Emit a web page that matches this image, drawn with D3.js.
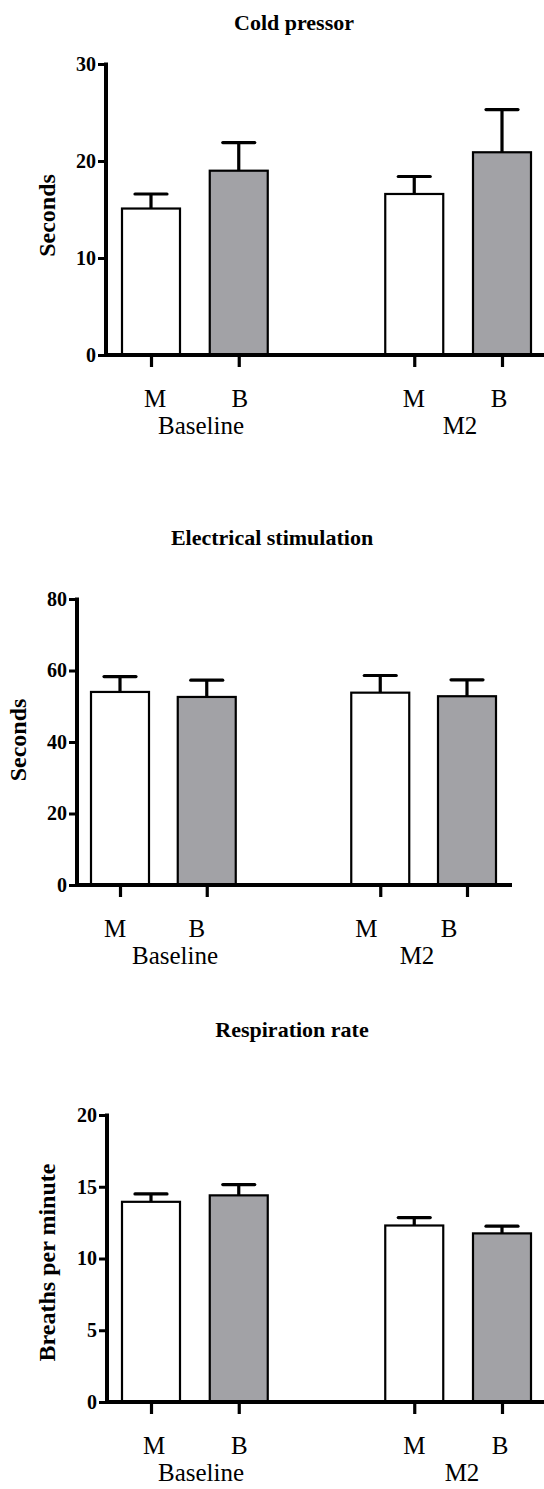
<!DOCTYPE html>
<html>
<head>
<meta charset="utf-8">
<script src="https://cdn.jsdelivr.net/npm/d3@7"></script>
<style>
  html, body { margin: 0; padding: 0; background: #fff; }
  svg { display: block; }
  text { font-family: "Liberation Serif", "Times New Roman", serif; fill: #000; }
</style>
</head>
<body>
<svg id="chart" width="544" height="1489"></svg>
<script>
// Group and condition labels
const groups = ["Baseline", "M2"];
const conditions = ["M", "B"];

// Cold pressor (seconds)
const coldMean = [15.1, 19.0, 16.6, 20.9];
const coldErr  = [1.5, 2.9, 1.8, 4.4];
const coldTicks = [0, 10, 20, 30];

// Electrical stimulation (seconds)
const elecMean = [54.0, 52.6, 53.8, 52.8];
const elecErr  = [4.3, 4.7, 4.8, 4.6];
const elecTicks = [0, 20, 40, 60, 80];

// Respiration rate (breaths per minute)
const respMean = [13.95, 14.4, 12.3, 11.75];
const respErr  = [0.55, 0.75, 0.55, 0.5];
const respTicks = [0, 5, 10, 15, 20];

const panels = [
  { title: "Cold pressor", yLabel: "Seconds", mean: coldMean, err: coldErr, ticks: coldTicks,
    axisX: 106, y0: 355, yTop: 64, firstX: 151, lastX: 502, axisEnd: 560,
    titleX: 294, titleY: 30, yLabelX: 55, yLabelShift: 6,
    condShift: [4, 1, -0.5, -3], groupX: [201, 460] },
  { title: "Electrical stimulation", yLabel: "Seconds", mean: elecMean, err: elecErr, ticks: elecTicks,
    axisX: 77, y0: 885, yTop: 599, firstX: 120, lastX: 467, axisEnd: 512,
    titleX: 272, titleY: 545, yLabelX: 26, yLabelShift: -2,
    condShift: [-5, -10, -14, -18], groupX: [175, 417] },
  { title: "Respiration rate", yLabel: "Breaths per minute", mean: respMean, err: respErr, ticks: respTicks,
    axisX: 107, y0: 1402, yTop: 1115, firstX: 151, lastX: 502, axisEnd: 560,
    titleX: 292, titleY: 1037, yLabelX: 55, yLabelShift: 4,
    condShift: [3, 0.5, 0, -2], groupX: [201, 462] }
];

const svg = d3.select("#chart");
const slots = ["Baseline|M", "Baseline|B", "gap", "M2|M", "M2|B"];
const barKeys = ["Baseline|M", "Baseline|B", "M2|M", "M2|B"];
const fills = { M: "#ffffff", B: "#a2a2a6" };
const barW = 58;

panels.forEach(p => {
  const g = svg.append("g");
  const yMax = p.ticks[p.ticks.length - 1];
  const y = d3.scaleLinear().domain([0, yMax]).range([p.y0, p.yTop]);
  const x = d3.scalePoint().domain(slots).range([p.firstX, p.lastX]);

  const rows = barKeys.map((k, i) => ({
    key: k, group: k.split("|")[0], cond: k.split("|")[1],
    mean: p.mean[i], err: p.err[i], shift: p.condShift[i]
  }));

  // Title
  g.append("text")
    .attr("x", p.titleX).attr("y", p.titleY)
    .attr("text-anchor", "middle")
    .style("font-weight", "bold").style("font-size", "22px")
    .text(p.title);

  // Error bars (drawn first so the bar outline sits over the stem base)
  const eb = g.append("g").attr("stroke", "#000").attr("stroke-width", 3.2).attr("fill", "none");
  rows.forEach(r => {
    const cx = x(r.key);
    eb.append("line").attr("x1", cx).attr("x2", cx)
      .attr("y1", y(r.mean)).attr("y2", y(r.mean + r.err));
    eb.append("line").attr("x1", cx - 16).attr("x2", cx + 16)
      .attr("y1", y(r.mean + r.err)).attr("y2", y(r.mean + r.err))
      .attr("stroke-linecap", "round");
  });

  // Bars
  g.append("g").selectAll("rect").data(rows).join("rect")
    .attr("x", d => x(d.key) - barW / 2)
    .attr("y", d => y(d.mean))
    .attr("width", barW)
    .attr("height", d => y(0) - y(d.mean))
    .attr("fill", d => fills[d.cond])
    .attr("stroke", "#000")
    .attr("stroke-width", 2.2);

  // Y axis
  const yAxis = d3.axisLeft(y).tickValues(p.ticks).tickSize(8).tickPadding(2).tickFormat(d3.format("d"));
  const ya = g.append("g").attr("transform", `translate(${p.axisX},0)`).call(yAxis);
  ya.select(".domain").remove();
  ya.selectAll(".tick line").attr("stroke", "#000").attr("stroke-width", 3);
  ya.selectAll(".tick text")
    .style("font-family", "'Liberation Serif', 'Times New Roman', serif")
    .style("font-weight", "bold").style("font-size", "20px").attr("fill", "#000");
  g.append("line")
    .attr("x1", p.axisX).attr("x2", p.axisX)
    .attr("y1", p.yTop - 1.5).attr("y2", p.y0 + 2)
    .attr("stroke", "#000").attr("stroke-width", 4);

  // X axis line and ticks
  g.append("line")
    .attr("x1", p.axisX - 2).attr("x2", p.axisEnd)
    .attr("y1", p.y0).attr("y2", p.y0)
    .attr("stroke", "#000").attr("stroke-width", 4);
  const xAxis = d3.axisBottom(x).tickValues(barKeys).tickSize(12).tickFormat(() => "");
  const xa = g.append("g").attr("transform", `translate(0,${p.y0})`).call(xAxis);
  xa.select(".domain").remove();
  xa.selectAll(".tick line").attr("stroke", "#000").attr("stroke-width", 3.2);

  // Condition labels under ticks
  g.append("g").selectAll("text").data(rows).join("text")
    .attr("x", d => x(d.key) + d.shift)
    .attr("y", p.y0 + 52)
    .attr("text-anchor", "middle")
    .style("font-size", "25px")
    .text(d => d.cond);

  // Group labels
  groups.forEach((grp, i) => {
    g.append("text")
      .attr("x", p.groupX[i]).attr("y", p.y0 + 79)
      .attr("text-anchor", "middle")
      .style("font-size", "25px")
      .text(grp);
  });

  // Y axis title
  const ymid = (p.y0 + p.yTop) / 2 + p.yLabelShift;
  g.append("text")
    .attr("transform", `translate(${p.yLabelX},${ymid}) rotate(-90)`)
    .attr("text-anchor", "middle")
    .style("font-weight", "bold").style("font-size", "24px")
    .text(p.yLabel);
});
</script>
</body>
</html>
